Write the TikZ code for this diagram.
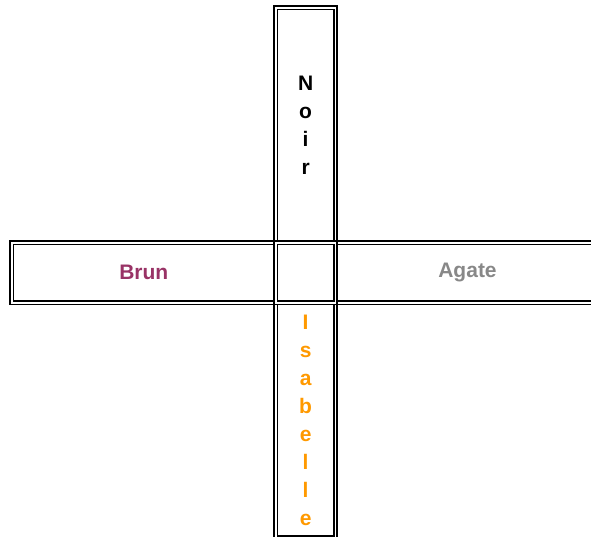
\documentclass[tikz,border=0pt]{standalone}
\usepackage{fontspec}
\setmainfont{Liberation Sans}
\definecolor{brun}{HTML}{993366}
\definecolor{agate}{HTML}{888888}
\definecolor{isab}{HTML}{FF9900}
\begin{document}
\begin{tikzpicture}[x=1pt,y=-1pt,
  cell/.style={draw=black, double=white, line width=1.7pt, double distance=1.7pt,
    rectangle, inner sep=0pt, outer sep=0pt,
    font=\bfseries\fontsize{21}{28}\selectfont, align=center}]
\useasboundingbox (0,0) rectangle (591,536);
\node[cell, minimum width=59.7pt, minimum height=235pt] (top) at (305.65,125.3) {N\\o\\i\\r};
\node[cell, minimum width=264pt, minimum height=60pt, text=brun] (left) at (143.8,272.8) {Brun};
\node[cell, minimum width=264pt, minimum height=60pt, text=agate] (right) at (467.5,272.8) {Agate};
\node[cell, minimum width=59.7pt, minimum height=235pt, text=isab] (bottom) at (305.65,420.3) {I\\s\\a\\b\\e\\l\\l\\e};
\node[cell, minimum width=59.7pt, minimum height=60pt] (centre) at (305.65,272.8) {};
\end{tikzpicture}
\end{document}
